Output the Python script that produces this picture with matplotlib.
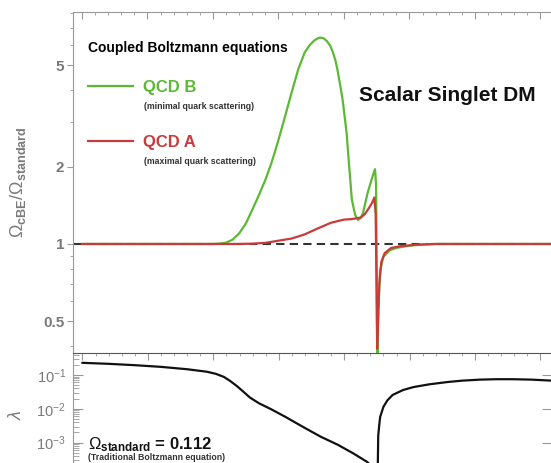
import numpy as np
import matplotlib
matplotlib.use('Agg')
import matplotlib.pyplot as plt
from matplotlib.lines import Line2D
from matplotlib.ticker import FixedLocator, LogLocator, NullFormatter, MultipleLocator

plt.rcParams['font.family'] = ['Liberation Sans', 'DejaVu Sans']
plt.rcParams['mathtext.fontset'] = 'custom'
plt.rcParams['mathtext.rm'] = 'Liberation Sans'
plt.rcParams['mathtext.it'] = 'Liberation Sans:italic'
plt.rcParams['mathtext.bf'] = 'Liberation Sans:bold'

# dark matter mass (GeV) and ratio Omega_cBE / Omega_standard
mass_b = [40, 50, 50.5, 51.0, 51.5, 52.0, 52.5, 53.0, 53.5, 54.0, 54.5, 55.0, 55.5,
          56.0, 56.5, 57.0, 57.4, 57.75, 58.0, 58.2, 58.45, 58.7, 58.95, 59.16,
          59.35, 59.5, 59.7, 59.9, 60.05, 60.2, 60.4, 60.6, 60.85, 61.07, 61.25,
          61.45, 61.8, 62.1, 62.3, 62.37, 62.45, 62.5, 62.55, 62.62, 62.75, 63.0,
          63.5, 64.0, 65.0, 66.0, 67.0, 76.0]
ratio_b = [1.0, 1.0, 1.003, 1.012, 1.04, 1.1, 1.2, 1.36, 1.55, 1.78, 2.1, 2.55, 3.15,
           3.9, 4.8, 5.6, 6.0, 6.25, 6.36, 6.4, 6.36, 6.2, 5.95, 5.6,
           5.2, 4.8, 4.2, 3.65, 3.15, 2.71, 2.0, 1.49, 1.3, 1.24, 1.26,
           1.32, 1.58, 1.78, 1.92, 1.96, 1.7, 0.8, 0.3, 0.55, 0.78, 0.89,
           0.945, 0.965, 0.985, 0.995, 1.0, 1.0]

mass_a = [40, 52, 53, 54, 55, 56, 57, 58, 59, 60, 60.5, 61.0, 61.3, 61.6, 61.9,
          62.15, 62.32, 62.42, 62.48, 62.53, 62.6, 62.7, 62.85, 63.1, 63.6, 64.3,
          65.5, 67.0, 76.0]
ratio_a = [1.0, 1.0, 1.003, 1.01, 1.03, 1.05, 1.09, 1.15, 1.21, 1.245, 1.25, 1.26,
           1.27, 1.31, 1.38, 1.45, 1.52, 1.3, 0.7, 0.39, 0.5, 0.7, 0.85, 0.92,
           0.965, 0.98, 0.993, 1.0, 1.0]

# coupling lambda giving Omega_standard = 0.112
mass_l = [40, 42, 44, 46, 48, 49.5, 50.2, 50.8, 51.3, 51.8, 52.3, 52.8, 53.5, 54.4,
          55.5, 56.9, 58.2, 59.5, 60.7, 61.75, 62.2, 62.45, 62.52, 62.6, 62.7,
          62.75, 63.0, 63.3, 63.7, 64.5, 65.3, 66.5, 67.9, 69.0, 70.4, 71.6, 72.9,
          74.3, 75.9]
lam = [0.229, 0.214, 0.195, 0.174, 0.148, 0.125, 0.108, 0.088, 0.066, 0.047,
       0.032, 0.0215, 0.0145, 0.0098, 0.0058, 0.00285, 0.0015, 0.00087, 0.00048,
       0.00027, 0.00018, 2.5e-5, 1e-5, 0.0016, 0.004, 0.0058, 0.0115, 0.0178,
       0.0257, 0.036, 0.044, 0.053, 0.062, 0.068, 0.073, 0.075, 0.075, 0.073,
       0.068]

green = '#5cb934'
red = '#c93a3a'
gray_txt = '#7a7a7a'

fig = plt.figure(figsize=(5.51, 4.63), dpi=100)
W, H = 551.0, 463.0

# pannello superiore (esteso oltre il bordo destro come nell'originale)
ax = fig.add_axes([72.5 / W, 1 - 353 / H, 479.5 / W, 341 / H])
ax.set_yscale('log')
ax.set_xlim(39.275, 75.88)
ax.set_ylim(0.375, 8.06)

ax.axhline(1, color='#333333', lw=1.5, ls=(0, (4, 2.5)), zorder=2)
ax.plot(mass_b, ratio_b, color=green, lw=1.6, zorder=3)
ax.plot(mass_a, ratio_a, color=red, lw=1.6, zorder=4)

ax.yaxis.set_major_locator(FixedLocator([0.5, 1, 2, 5]))
ax.yaxis.set_major_formatter(matplotlib.ticker.FixedFormatter(['0.5', '1', '2', '5']))
ax.yaxis.set_minor_locator(LogLocator(base=10, subs=np.arange(2, 10)))
ax.yaxis.set_minor_formatter(NullFormatter())
ax.xaxis.set_major_locator(MultipleLocator(5))
ax.xaxis.set_minor_locator(MultipleLocator(1))
ax.tick_params(axis='x', which='both', direction='in', top=True, bottom=False,
               labelbottom=False, color='#999999')
ax.tick_params(axis='x', which='major', length=5)
ax.tick_params(axis='x', which='minor', length=2.5)
ax.tick_params(axis='y', which='both', direction='out', left=True, right=False,
               color='#999999')
ax.tick_params(axis='y', which='major', length=4, pad=2, labelsize=11,
               labelcolor=gray_txt)
ax.tick_params(axis='y', which='minor', length=2.5)
for lab in ax.get_yticklabels():
    lab.set_fontweight('bold')
for s in ['top', 'left', 'right', 'bottom']:
    ax.spines[s].set_color('#999999')
ax.spines['bottom'].set_visible(False)

ax.set_ylabel(r'$\Omega_{\mathbf{cBE}}/\Omega_{\mathbf{standard}}$', color=gray_txt,
              fontsize=13)
ax.yaxis.set_label_coords(-0.093, 0.5)

# legenda
handles = [Line2D([], [], color=green, lw=1.6), Line2D([], [], color=red, lw=1.6)]
leg = ax.legend(handles, ['QCD B', 'QCD A'], loc='upper left',
                bbox_to_anchor=(0.033, 0.915), frameon=False, handlelength=2.7,
                handletextpad=0.6, labelspacing=2.42, borderpad=0, borderaxespad=0,
                title='Coupled Boltzmann equations', alignment='left',
                prop={'weight': 'bold', 'size': 12},
                title_fontproperties={'weight': 'bold', 'size': 10})
for txt, col in zip(leg.get_texts(), [green, red]):
    txt.set_color(col)
leg._legend_box.sep = 18

ax.text(0.149, 0.724, '(minimal quark scattering)', transform=ax.transAxes,
        fontsize=6.3, fontweight='bold', color='#333333', va='center')
ax.text(0.149, 0.563, '(maximal quark scattering)', transform=ax.transAxes,
        fontsize=6.3, fontweight='bold', color='#333333', va='center')
ax.text(0.5975, 0.754, 'Scalar Singlet DM', transform=ax.transAxes,
        fontsize=15, fontweight='bold', color='#111111', va='center')

# pannello inferiore: lambda
ax2 = fig.add_axes([73 / W, 1 - 490 / H, 479 / W, 137 / H])
ax2.set_yscale('log')
ax2.set_xlim(39.275, 75.88)
ax2.set_ylim(3.98e-5, 0.447)
ax2.plot(mass_l, lam, color='#111111', lw=1.6)

ax2.xaxis.set_major_locator(MultipleLocator(5))
ax2.xaxis.set_minor_locator(MultipleLocator(1))
ax2.tick_params(axis='x', which='both', direction='in', top=True, bottom=False,
                labelbottom=False, color='#999999')
ax2.tick_params(axis='x', which='major', length=5)
ax2.tick_params(axis='x', which='minor', length=2.5)
ax2.yaxis.set_major_locator(FixedLocator([1e-3, 1e-2, 1e-1]))
ax2.yaxis.set_minor_locator(LogLocator(base=10, subs=np.arange(2, 10)))
ax2.yaxis.set_minor_formatter(NullFormatter())
ax2.tick_params(axis='y', which='both', direction='in', left=True, right=True,
                color='#999999')
ax2.tick_params(axis='y', which='major', length=7, pad=5, labelsize=10.5,
                labelcolor=gray_txt)
ax2.tick_params(axis='y', which='minor', length=4)
ax2.tick_params(axis='y', which='minor', right=False)
for s in ['left', 'right', 'bottom']:
    ax2.spines[s].set_color('#999999')
ax2.spines['top'].set_color('#555555')

ax2.set_ylabel(r'$\lambda$', color=gray_txt, fontsize=13)
ax2.yaxis.set_label_coords(-0.1, 0.547)

ax2.text(0.031, 0.33, r'$\Omega_{\mathbf{standard}}$' + ' = 0.112',
         transform=ax2.transAxes, fontsize=12, fontweight='bold',
         color='#111111', va='center')
ax2.text(0.031, 0.24, '(Traditional Boltzmann equation)', transform=ax2.transAxes,
         fontsize=6.3, fontweight='bold', color='#333333', va='center')

fig.savefig('out.png', dpi=100)
